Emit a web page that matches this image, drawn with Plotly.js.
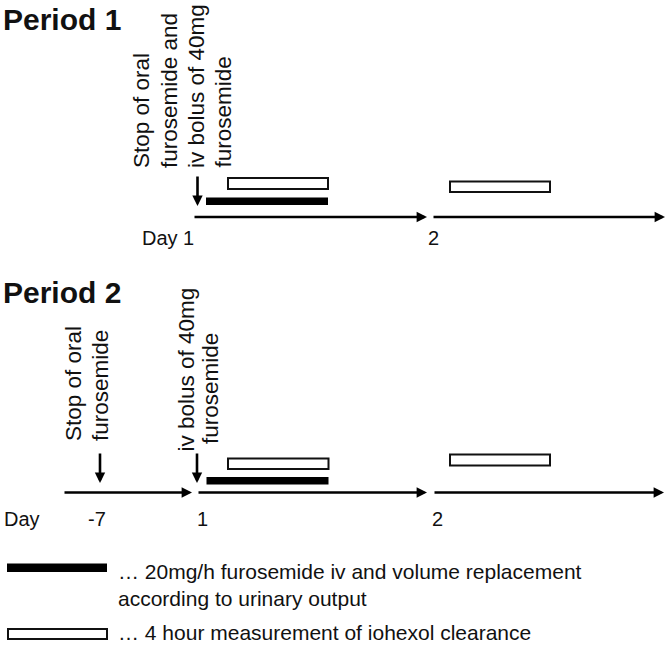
<!DOCTYPE html>
<html>
<head>
<meta charset="utf-8">
<script src="https://cdn.plot.ly/plotly-3.0.1.min.js"></script>
<style>html,body{margin:0;padding:0;background:#fff;}#chart{width:666px;height:648px;}</style>
</head>
<body>
<div id="chart"></div>
<script>
// ---- content (texts and day ticks) ----
const periodTitles = ['Period 1', 'Period 2'];
const period1Note = ['Stop of oral', 'furosemide and', 'iv bolus of 40mg', 'furosemide'];
const period2StopNote = ['Stop of oral', 'furosemide'];
const period2BolusNote = ['iv bolus of 40mg', 'furosemide'];
const period1DayLabels = ['Day 1', '2'];
const period2DayLabels = ['Day', '-7', '1', '2'];
const legendLabels = ['\u2026 20mg/h furosemide iv and volume replacement',
                      'according to urinary output',
                      '\u2026 4 hour measurement of iohexol clearance'];

// ---- layout geometry of the schematic (page coordinates) ----
const FONT = 'Liberation Sans, Arial, Helvetica, sans-serif';
const TXT = '#111';
const geom = {
  titleY: [19, 292],
  p1NoteX: [141.5, 169.5, 196, 223], p1NoteBottom: [169, 169, 169, 169],
  p2StopX: [73.5, 100.5], p2StopBottom: [442, 442],
  p2BolusX: [185.5, 210.5], p2BolusBottom: [453, 445],
  p1DayX: [168, 433], p1DayY: 238,
  p2DayX: [22, 97, 202, 437], p2DayY: 519,
  // timelines: [x0, xTip, y]
  timelines: [[193, 427, 217], [432, 665, 217], [63, 192, 492.5], [197, 427, 492.5], [433, 664, 492.5]],
  // vertical arrows: [x, yTop, yTip]
  vArrows: [[197.5, 175, 206], [100, 452, 483], [197, 452, 483]],
  // filled bars [x0,x1,y0,y1]
  filled: [[206, 328, 197.5, 205], [206.5, 328.5, 477, 484.5], [7, 107, 563.5, 572]],
  // open boxes
  open: [[228, 328, 178, 189], [450, 550, 181.5, 192], [228, 328.5, 458.5, 469], [450, 550, 454.5, 465.5], [8, 107, 629, 639]],
  legendX: 117, legendY: [571.5, 598, 632.5]
};

const annotations = [];
const shapes = [];

function txt(text, x, y, opts) {
  annotations.push(Object.assign({
    text: text, x: x, y: y, xref: 'x', yref: 'y', showarrow: false,
    font: {family: FONT, size: 20, color: TXT}, borderpad: 0
  }, opts));
}

// titles
periodTitles.forEach((t, i) => txt('<b>' + t + '</b>', 2, geom.titleY[i],
  {xanchor: 'left', yanchor: 'middle', font: {family: FONT, size: 30, color: TXT}}));

// rotated notes
function rot(lines, xs, bottoms) {
  lines.forEach((t, i) => txt(t, xs[i], bottoms[i],
    {textangle: -90, xanchor: 'center', yanchor: 'bottom', font: {family: FONT, size: 22.5, color: TXT}}));
}
rot(period1Note, geom.p1NoteX, geom.p1NoteBottom);
rot(period2StopNote, geom.p2StopX, geom.p2StopBottom);
rot(period2BolusNote, geom.p2BolusX, geom.p2BolusBottom);

// day labels
period1DayLabels.forEach((t, i) => txt(t, geom.p1DayX[i], geom.p1DayY, {xanchor: 'center', yanchor: 'middle'}));
period2DayLabels.forEach((t, i) => txt(t, geom.p2DayX[i], geom.p2DayY, {xanchor: 'center', yanchor: 'middle'}));

// legend texts
legendLabels.forEach((t, i) => txt(t, geom.legendX, geom.legendY[i],
  {xanchor: 'left', yanchor: 'middle', font: {family: FONT, size: 21, color: TXT}}));

// arrows
function arrow(x0, y0, x1, y1) {
  annotations.push({
    x: x1, y: y1, ax: x0, ay: y0, xref: 'x', yref: 'y', axref: 'x', ayref: 'y',
    text: '', showarrow: true, arrowhead: 2, arrowwidth: 2.6, arrowsize: 0.8,
    arrowcolor: '#000', standoff: 0, startstandoff: 0
  });
}
geom.timelines.forEach(l => arrow(l[0], l[2], l[1], l[2]));
geom.vArrows.forEach(a => arrow(a[0], a[1], a[0], a[2]));

geom.filled.forEach(r => shapes.push({type: 'rect', xref: 'x', yref: 'y', x0: r[0], x1: r[1], y0: r[2], y1: r[3],
  fillcolor: '#000', line: {width: 0}}));
geom.open.forEach(r => shapes.push({type: 'rect', xref: 'x', yref: 'y', x0: r[0], x1: r[1], y0: r[2], y1: r[3],
  fillcolor: '#fff', line: {width: 2, color: '#111'}}));

const layout = {
  width: 666, height: 648,
  margin: {l: 0, r: 0, t: 0, b: 0, pad: 0},
  paper_bgcolor: '#fff', plot_bgcolor: '#fff',
  showlegend: false,
  xaxis: {range: [0, 666], visible: false, fixedrange: true},
  yaxis: {range: [648, 0], visible: false, fixedrange: true},
  annotations: annotations,
  shapes: shapes
};
Plotly.newPlot('chart', [{x: [], y: [], type: 'scatter', mode: 'lines', hoverinfo: 'skip'}], layout,
  {staticPlot: true, displayModeBar: false});
</script>
</body>
</html>
